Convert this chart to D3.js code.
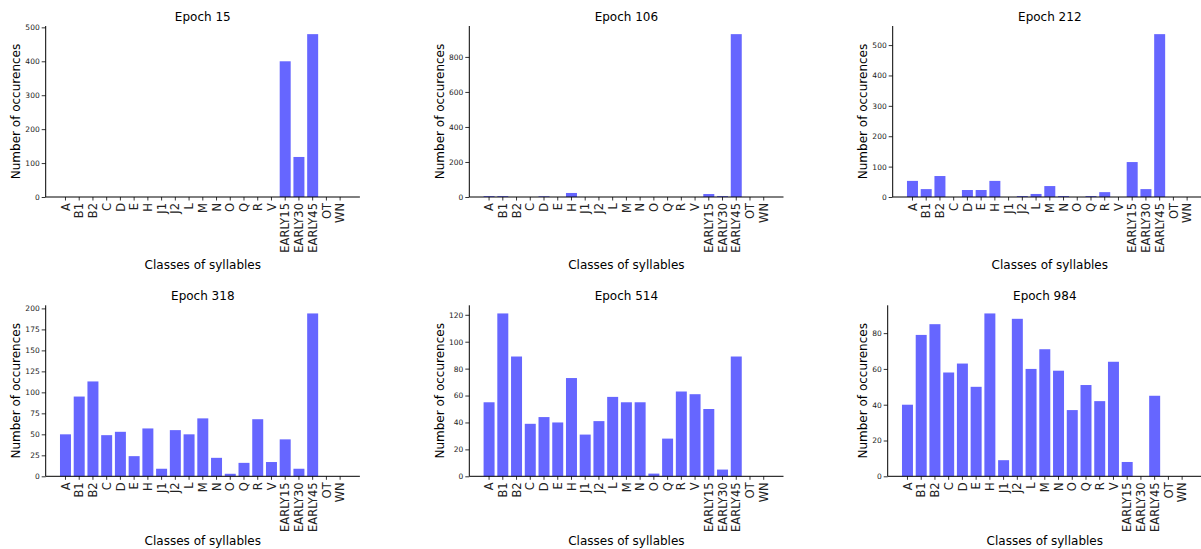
<!DOCTYPE html>
<html>
<head>
<meta charset="utf-8">
<script src="https://cdn.jsdelivr.net/npm/d3@7"></script>
<style>
  html, body { margin: 0; padding: 0; background: #fff; }
  svg { display: block; font-family: "DejaVu Sans", sans-serif; }
</style>
</head>
<body>
<svg id="chart" width="1201" height="549"></svg>
<script>
const categories = ["A","B1","B2","C","D","E","H","J1","J2","L","M","N","O","Q","R","V","EARLY15","EARLY30","EARLY45","OT","WN"];
const epochs = [15, 106, 212, 318, 514, 984];

const epoch15  = [0,0,0,0,0,0,0,0,0,0,0,0,0,0,0,0,400,118,480,0,0];
const epoch106 = [5,5,0,0,4,0,23,0,0,0,0,0,0,0,0,0,17,5,930,0,0];
const epoch212 = [53,26,69,0,23,23,53,0,3,10,36,3,0,3,16,0,115,26,536,0,0];
const epoch318 = [50,95,113,49,53,24,57,9,55,50,69,22,3,16,68,17,44,9,194,0,0];
const epoch514 = [55,121,89,39,44,40,73,31,41,59,55,55,2,28,63,61,50,5,89,0,0];
const epoch984 = [40,79,85,58,63,50,91,9,88,60,71,59,37,51,42,64,8,0,45,0,0];

const yTicks15  = [0,100,200,300,400,500];
const yTicks106 = [0,200,400,600,800];
const yTicks212 = [0,100,200,300,400,500];
const yTicks318 = [0,25,50,75,100,125,150,175,200];
const yTicks514 = [0,20,40,60,80,100,120];
const yTicks984 = [0,20,40,60,80];

const seriesList = [epoch15, epoch106, epoch212, epoch318, epoch514, epoch984];
const tickList = [yTicks15, yTicks106, yTicks212, yTicks318, yTicks514, yTicks984];

const xLabel = "Classes of syllables";
const yLabel = "Number of occurences";

// layout (pixel positions of each axes box)
const layout = [
  {left: 45.7,  top: 26,    ylabX: 16},
  {left: 469.3, top: 26,    ylabX: 439.3},
  {left: 892.7, top: 26,    ylabX: 862.3},
  {left: 45.7,  top: 305.3, ylabX: 16},
  {left: 469.3, top: 305.3, ylabX: 439.3},
  {left: 887.7, top: 305.3, ylabX: 862.3}
];
const W = 314.2, H = 171;
const figH = 549;
const barColor = "#6666ff";
const textColor = "#222";

const svg = d3.select("#chart");

seriesList.forEach((vals, i) => {
  const L = layout[i];
  const g = svg.append("g").attr("transform", `translate(${L.left},${L.top})`);
  const x = d3.scaleBand().domain(categories).range([0, W]).paddingInner(0.2).paddingOuter(1.04);
  const ymax = d3.max(vals) * 1.05;
  const y = d3.scaleLinear().domain([0, ymax]).range([H, 0]);

  g.selectAll("rect.bar").data(vals).join("rect")
    .attr("class", "bar")
    .attr("x", (d, j) => x(categories[j]))
    .attr("width", x.bandwidth())
    .attr("y", d => y(d))
    .attr("height", d => H - y(d))
    .attr("fill", barColor);

  // y axis
  const yAxis = d3.axisLeft(y).tickValues(tickList[i]).tickSize(4).tickPadding(2).tickFormat(d3.format("d"));
  const ya = g.append("g").call(yAxis);
  ya.select(".domain").attr("stroke", "#000").attr("stroke-width", 1).attr("d", `M0,${H}V0`);
  ya.selectAll(".tick line").attr("stroke", "#000").attr("stroke-width", 0.8);
  ya.selectAll(".tick text").attr("font-size", "7.5px").attr("fill", textColor)
    .attr("font-family", "DejaVu Sans");

  // x axis
  const xAxis = d3.axisBottom(x).tickSize(3.5).tickPadding(0);
  const xa = g.append("g").attr("transform", `translate(0,${H})`).call(xAxis);
  xa.select(".domain").attr("stroke", "#000").attr("stroke-width", 1).attr("d", `M0,0H${W}`);
  xa.selectAll(".tick line").attr("stroke", "#000").attr("stroke-width", 0.8);
  xa.selectAll(".tick text")
    .attr("font-size", "11.5px").attr("fill", textColor).attr("font-family", "DejaVu Sans")
    .attr("text-anchor", "end")
    .attr("transform", "translate(0,6) rotate(-90)")
    .attr("x", 0).attr("y", 0).attr("dy", "0.36em");

  // title
  g.append("text").attr("x", W / 2).attr("y", -5).attr("text-anchor", "middle")
    .attr("font-size", "12px").attr("fill", "#000").text("Epoch " + epochs[i]);

  // x label (kept inside the figure's bottom edge)
  const xlY = Math.min(H + 72, figH - 3.5 - L.top);
  g.append("text").attr("x", W / 2).attr("y", xlY).attr("text-anchor", "middle")
    .attr("font-size", "12px").attr("fill", "#000").text(xLabel);

  // y label
  svg.append("text")
    .attr("transform", `translate(${L.ylabX},${L.top + H / 2}) rotate(-90)`)
    .attr("text-anchor", "middle").attr("dy", "0.36em")
    .attr("font-size", "12px").attr("fill", "#000").text(yLabel);
});
</script>
</body>
</html>
